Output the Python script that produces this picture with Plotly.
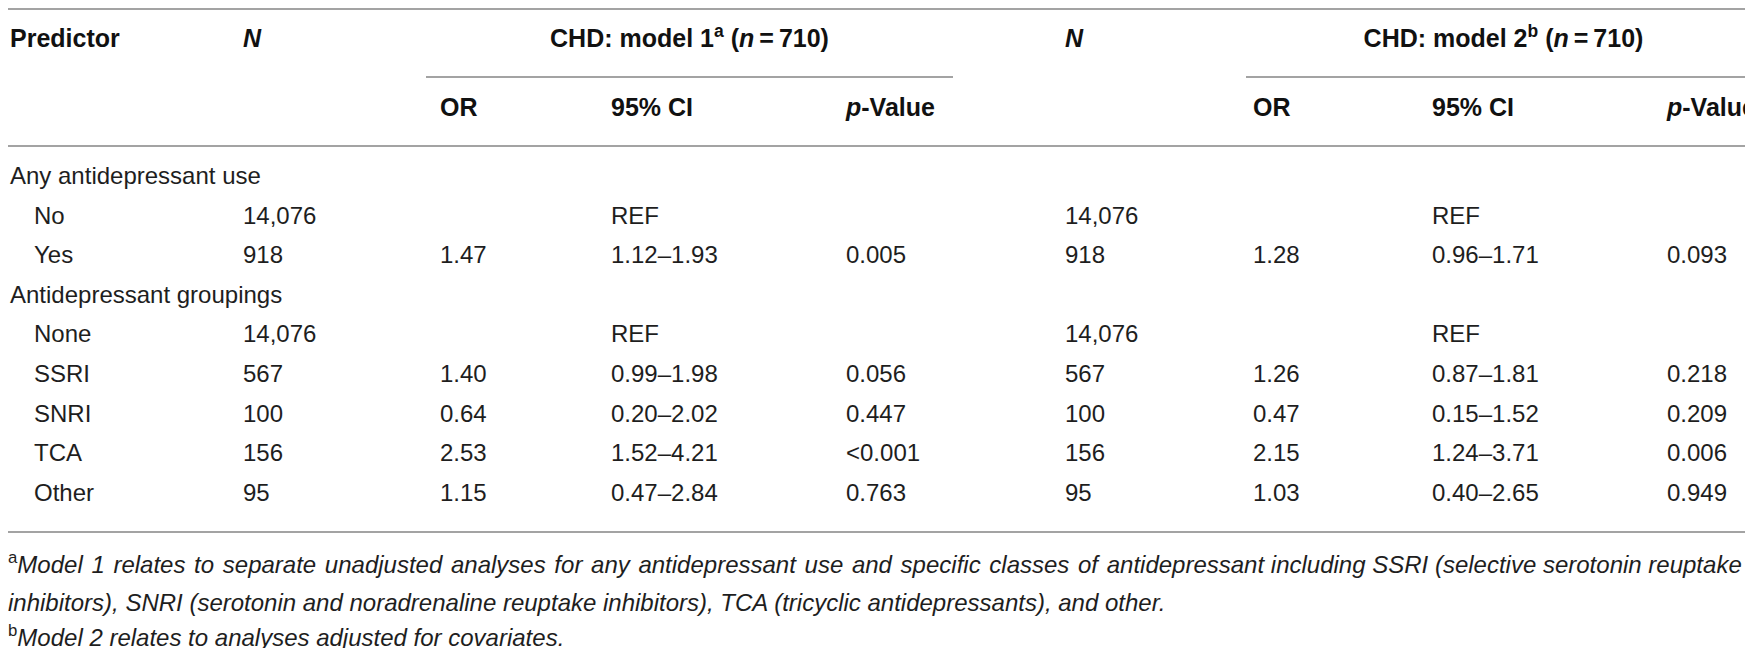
import plotly.graph_objects as go

# table content
predictor = ["Any antidepressant use", "No", "Yes", "Antidepressant groupings",
             "None", "SSRI", "SNRI", "TCA", "Other"]
n_count = ["", "14,076", "918", "", "14,076", "567", "100", "156", "95"]
or_m1 = ["", "", "1.47", "", "", "1.40", "0.64", "2.53", "1.15"]
ci_m1 = ["", "REF", "1.12–1.93", "", "REF", "0.99–1.98", "0.20–2.02", "1.52–4.21", "0.47–2.84"]
p_m1 = ["", "", "0.005", "", "", "0.056", "0.447", "&lt;0.001", "0.763"]
or_m2 = ["", "", "1.28", "", "", "1.26", "0.47", "2.15", "1.03"]
ci_m2 = ["", "REF", "0.96–1.71", "", "REF", "0.87–1.81", "0.15–1.52", "1.24–3.71", "0.40–2.65"]
p_m2 = ["", "", "0.093", "", "", "0.218", "0.209", "0.006", "0.949"]

group_headers = ["CHD: model 1<sup>a</sup> (<i>n</i>\u2009=\u2009710)",
                 "CHD: model 2<sup>b</sup> (<i>n</i>\u2009=\u2009710)"]
col_headers = ["OR", "95% CI", "<i>p</i>-Value"]

footnote_a1 = ("Model 1 relates to separate unadjusted analyses for any antidepressant use and "
               "specific classes of antidepressant including SSRI (selective serotonin reuptake")
footnote_a2 = ("inhibitors), SNRI (serotonin and noradrenaline reuptake inhibitors), TCA (tricyclic "
               "antidepressants), and other.")
footnote_b = "Model 2 relates to analyses adjusted for covariates."

# layout (pixel units on the hidden axes)
W, H = 1753, 648
col_x = {"label": 2, "indent": 26, "n1": 235, "or1": 432, "ci1": 603, "p1": 838,
         "n2": 1057, "or2": 1245, "ci2": 1424, "p2": 1659}
span1 = (418, 945)
span2 = (1238, 1753)
head1_y, head2_y = 33, 102
row_y0, row_h = 170, 39.6
foot_y = [559, 597, 632]
line_color = "#a3a3a3"
body_font = dict(family="Liberation Sans, Arial, sans-serif", size=24, color="#1e1e1e")
head_font = dict(family="Liberation Sans, Arial, sans-serif", size=25, color="#111111")
foot_font = dict(family="Liberation Sans, Arial, sans-serif", size=24, color="#1e1e1e")

rows_y = [row_y0 + i * row_h for i in range(len(predictor))]

# first footnote line is justified in the original: widen some word gaps a little
words = footnote_a1.split(" ")
n_wide = 15
justified_a1 = " \u200a".join(words[:n_wide + 1]) + " " + " ".join(words[n_wide + 1:])
footnotes = [
    "<sup>a</sup><i>" + justified_a1 + "</i>",
    "<i>" + footnote_a2 + "</i>",
    "<sup>b</sup><i>" + footnote_b + "</i>",
]

fig = go.Figure()


def add_text(xs, ys, texts, font, pos="middle right"):
    # skip empty cells
    keep = [i for i, t in enumerate(texts) if t != ""]
    fig.add_trace(go.Scatter(x=[xs[i] for i in keep], y=[ys[i] for i in keep],
                             text=[texts[i] for i in keep], mode="text", textposition=pos,
                             textfont=font, hoverinfo="skip", showlegend=False))


# row labels: group headings (no N) sit flush left, sub rows are indented
label_x = [col_x["label"] if n == "" else col_x["indent"] for n in n_count]
add_text(label_x, rows_y, predictor, body_font)

for key, vals in [("n1", n_count), ("or1", or_m1), ("ci1", ci_m1), ("p1", p_m1),
                  ("n2", n_count), ("or2", or_m2), ("ci2", ci_m2), ("p2", p_m2)]:
    add_text([col_x[key]] * len(vals), rows_y, vals, body_font)

# header row 1
add_text([col_x["label"], col_x["n1"], col_x["n2"]], [head1_y] * 3,
         ["<b>Predictor</b>", "<b><i>N</i></b>", "<b><i>N</i></b>"], head_font)
add_text([(span1[0] + span1[1]) / 2, (span2[0] + span2[1]) / 2], [head1_y] * 2,
         ["<b>" + t + "</b>" for t in group_headers], head_font, pos="middle center")

# header row 2
sub_x = [col_x["or1"], col_x["ci1"], col_x["p1"], col_x["or2"], col_x["ci2"], col_x["p2"]]
add_text(sub_x, [head2_y] * 6, ["<b>" + t + "</b>" for t in col_headers * 2], head_font)

# footnotes
add_text([0] * len(footnotes), foot_y, footnotes, foot_font)

# table rules
rules = [(0, W, 1), (span1[0], span1[1], 69), (span2[0], span2[1], 69), (0, W, 138), (0, W, 524)]
for x0, x1, y in rules:
    fig.add_shape(type="line", xref="x", yref="y", x0=x0, x1=x1, y0=y, y1=y,
                  line=dict(color=line_color, width=2))

fig.update_layout(
    width=W, height=H,
    margin=dict(l=0, r=0, t=0, b=0),
    paper_bgcolor="white", plot_bgcolor="white",
    xaxis=dict(range=[0, W], visible=False, fixedrange=True),
    yaxis=dict(range=[H, 0], visible=False, fixedrange=True),
)

fig.write_html("out.html")
